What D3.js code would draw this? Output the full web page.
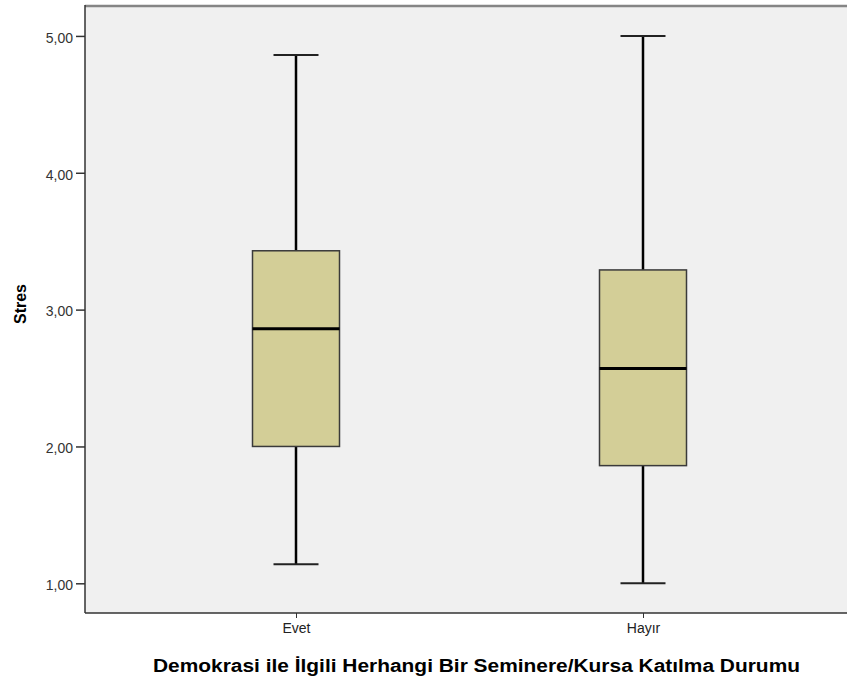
<!DOCTYPE html>
<html>
<head>
<meta charset="utf-8">
<script src="https://cdn.jsdelivr.net/npm/d3@7"></script>
<style>
  html, body { margin: 0; padding: 0; background: #fff; }
  svg { display: block; }
</style>
</head>
<body>
<svg id="chart" width="847" height="686"></svg>
<script>
// Box plot summary per group: Stres by participation
const categories = ["Evet", "Hayır"];
const whiskerLow = [1.14, 1.00];
const quartile1 = [2.00, 1.86];
const medians = [2.86, 2.57];
const quartile3 = [3.43, 3.29];
const whiskerHigh = [4.86, 5.00];
const yTicks = [1, 2, 3, 4, 5];

const svg = d3.select("#chart");
const W = 847, H = 686;
const plot = { left: 85, top: 5, right: 848, bottom: 613 };
const FONT = "Liberation Sans, Arial, sans-serif";

const y = d3.scaleLinear().domain([0.783, 5.226]).range([plot.bottom, plot.top]);
const x = d3.scalePoint().domain(categories).range([296, 643]);
const boxW = 87;
const capW = 45;

// plot background
svg.append("rect")
  .attr("x", plot.left).attr("y", plot.top)
  .attr("width", plot.right - plot.left).attr("height", plot.bottom - plot.top)
  .attr("fill", "#f0f0f0");

// top frame
svg.append("line")
  .attr("x1", plot.left).attr("x2", W)
  .attr("y1", plot.top + 1).attr("y2", plot.top + 1)
  .attr("stroke", "#858585").attr("stroke-width", 2.5);

const rows = categories.map((c, i) => ({
  cat: c, lo: whiskerLow[i], q1: quartile1[i], med: medians[i], q3: quartile3[i], hi: whiskerHigh[i]
}));

const g = svg.append("g");
const box = g.selectAll("g.box").data(rows).join("g").attr("class", "box");

// whisker stems
box.append("line")
  .attr("x1", d => x(d.cat)).attr("x2", d => x(d.cat))
  .attr("y1", d => y(d.hi)).attr("y2", d => y(d.q3))
  .attr("stroke", "#000").attr("stroke-width", 2.5);
box.append("line")
  .attr("x1", d => x(d.cat)).attr("x2", d => x(d.cat))
  .attr("y1", d => y(d.q1)).attr("y2", d => y(d.lo))
  .attr("stroke", "#000").attr("stroke-width", 2.5);

// whisker caps
box.selectAll("line.cap").data(d => [d.lo, d.hi].map(v => ({ cat: d.cat, v })))
  .join("line").attr("class", "cap")
  .attr("x1", d => x(d.cat) - capW / 2).attr("x2", d => x(d.cat) + capW / 2)
  .attr("y1", d => y(d.v)).attr("y2", d => y(d.v))
  .attr("stroke", "#222").attr("stroke-width", 2);

// boxes
box.append("rect")
  .attr("x", d => x(d.cat) - boxW / 2)
  .attr("y", d => y(d.q3))
  .attr("width", boxW)
  .attr("height", d => y(d.q1) - y(d.q3))
  .attr("fill", "#d3ce97")
  .attr("stroke", "#3a3a3a").attr("stroke-width", 1.5);

// medians
box.append("line")
  .attr("x1", d => x(d.cat) - boxW / 2).attr("x2", d => x(d.cat) + boxW / 2)
  .attr("y1", d => y(d.med)).attr("y2", d => y(d.med))
  .attr("stroke", "#000").attr("stroke-width", 3);

// y axis
const yAxis = svg.append("g")
  .attr("transform", `translate(${plot.left},0)`)
  .call(d3.axisLeft(y).tickValues(yTicks).tickSize(9).tickPadding(3)
    .tickFormat(d => d3.format(".2f")(d).replace(".", ",")));
yAxis.select(".domain").remove();
yAxis.selectAll(".tick line").attr("stroke", "#333").attr("stroke-width", 1.5);
yAxis.selectAll(".tick text")
  .attr("fill", "#333").attr("font-family", FONT)
  .attr("font-size", 14).attr("dy", "0.45em");

svg.append("line")
  .attr("x1", plot.left).attr("x2", plot.left)
  .attr("y1", plot.top).attr("y2", plot.bottom)
  .attr("stroke", "#333").attr("stroke-width", 1.5);

// x axis
const xAxis = svg.append("g")
  .attr("transform", `translate(0,${plot.bottom})`)
  .call(d3.axisBottom(x).tickSize(5).tickPadding(5));
xAxis.select(".domain").remove();
xAxis.selectAll(".tick line").attr("stroke", "#333").attr("stroke-width", 1);
xAxis.selectAll(".tick text")
  .attr("fill", "#222").attr("font-family", FONT)
  .attr("font-size", 14);

svg.append("line")
  .attr("x1", plot.left).attr("x2", W)
  .attr("y1", plot.bottom).attr("y2", plot.bottom)
  .attr("stroke", "#333").attr("stroke-width", 1.5);

// axis titles
svg.append("text")
  .attr("x", 153).attr("y", 672)
  .attr("textLength", 647).attr("lengthAdjust", "spacingAndGlyphs")
  .attr("font-family", FONT)
  .attr("font-weight", "bold").attr("font-size", 18)
  .attr("fill", "#000")
  .text("Demokrasi ile İlgili Herhangi Bir Seminere/Kursa Katılma Durumu");

svg.append("text")
  .attr("transform", "translate(26,304) rotate(-90)")
  .attr("text-anchor", "middle")
  .attr("font-family", FONT)
  .attr("font-weight", "bold").attr("font-size", 16)
  .attr("fill", "#000")
  .text("Stres");
</script>
</body>
</html>
